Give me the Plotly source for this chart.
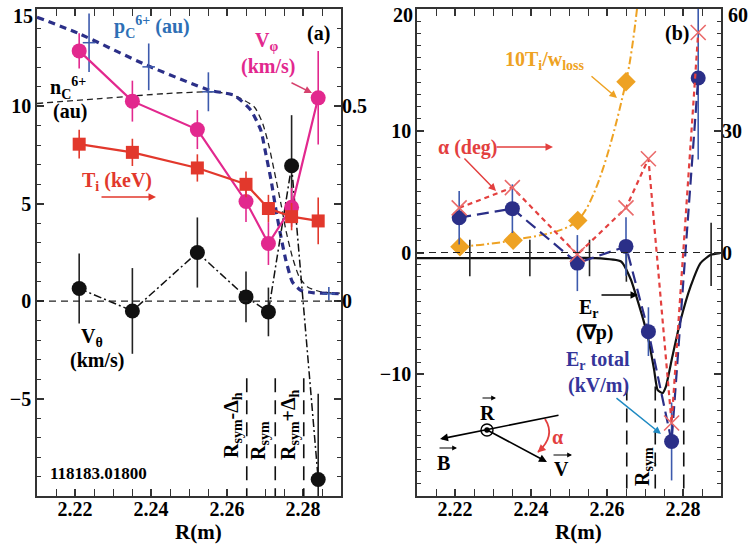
import plotly.graph_objects as go

W, H = 753, 544
FONT = "Liberation Serif"

# ---------------- panel (a) data ----------------
r_pts = [2.2211, 2.2351, 2.2522, 2.2650, 2.2709, 2.2770, 2.2840]
v_phi = [12.85, 10.27, 8.81, 5.12, 2.96, 4.82, 10.44]
v_phi_err = [0.9, 1.05, 1.0, 1.05, 1.1, 1.0, 2.4]
ti_kev = [0.403, 0.382, 0.342, 0.300, 0.238, 0.217, 0.206]
ti_err = [0.037, 0.035, 0.035, 0.033, 0.035, 0.035, 0.06]
v_theta = [0.65, -0.50, 2.50, 0.22, -0.55, 6.95, -9.15]
v_theta_err = [1.8, 2.2, 1.8, 1.3, 1.25, 2.6, 4.4]

pc_r = [2.2100, 2.2208, 2.2389, 2.2554, 2.2619, 2.2663, 2.2689, 2.2702, 2.2716,
        2.2729, 2.2742, 2.2755, 2.2772, 2.2794, 2.2829, 2.2868, 2.2900]
pc_val = [14.58, 13.76, 12.11, 10.83, 10.57, 9.80, 8.78, 7.58, 6.21,
          4.67, 3.30, 2.10, 0.99, 0.56, 0.43, 0.40, 0.38]
pc_err_r = [2.2237, 2.2394, 2.2551, 2.2868]
pc_err_val = [13.27, 12.03, 10.75, 0.38]
pc_err = [1.5, 1.2, 1.0, 0.35]

nc_r = [2.2100, 2.2266, 2.2441, 2.2575, 2.2627, 2.2672, 2.2694, 2.2711, 2.2724,
        2.2742, 2.2755, 2.2772, 2.2790, 2.2812, 2.2847, 2.2897]
nc_val = [10.15, 10.40, 10.66, 10.74, 10.49, 9.97, 9.12, 7.92, 6.72,
          5.00, 3.64, 2.27, 1.25, 0.73, 0.48, 0.41]

rsym_lines = [2.2652, 2.2727, 2.2802]

# ---------------- panel (b) data ----------------
er_total = [2.86, 3.60, -0.87, 0.50, -6.50, -15.52, 14.33]
er_total_err = [2.2, 2.0, 2.3, 2.4, 2.0, 3.2, 6.7]
alpha_deg = [11.0, 16.0, -0.5, 11.0, 23.1, -42.0, 54.2]
loss_r = [2.2213, 2.2353, 2.2523, 2.2650, 2.2711]
loss_val = [0.47, 1.01, 2.63, 14.02, 31.0]

erp_r = [2.2100, 2.2475, 2.2567, 2.2637, 2.2663, 2.2680, 2.2698, 2.2711, 2.2724,
         2.2733, 2.2746, 2.2755, 2.2772, 2.2794, 2.2820, 2.2846, 2.2873, 2.2897]
erp_val = [-0.46, -0.46, -0.46, -0.74, -2.24, -3.89, -5.80, -7.44, -9.64,
           -11.28, -11.55, -11.01, -8.55, -5.53, -2.79, -0.87, -0.19, -0.05]
erp_err_r = [2.2239, 2.2397, 2.2554, 2.2651, 2.2874]
erp_err_val = [-0.45, -0.45, -0.45, -0.8, -0.16]
erp_err = [1.5, 1.5, 1.5, 1.6, 2.6]

x_ticks = [2.22, 2.24, 2.26, 2.28]
ya_ticks = [-5, 0, 5, 10]        # "15" drawn as a label at the top corner
yb_ticks = [-10, 0, 10]          # "20" drawn as a label at the top corner
alpha_ticks = [0, 30]            # "60" drawn as a label at the top corner

MAG = "#e2288e"
RED = "#e2382c"
NAVY = "#2b2f88"
EBLUE = "#3d5aad"
ORANGE = "#eea223"
ARED = "#e3403f"

fig = go.Figure()

# ---- panel (a) traces ----
fig.add_trace(go.Scatter(x=nc_r, y=nc_val, mode="lines", xaxis="x", yaxis="y",
                         line=dict(color="#222", width=1.3, dash="6px,4px", shape="spline", smoothing=0.6)))
fig.add_trace(go.Scatter(x=pc_r, y=pc_val, mode="lines", xaxis="x", yaxis="y",
                         line=dict(color=NAVY, width=3.2, dash="7px,5px", shape="spline", smoothing=0.5)))
fig.add_trace(go.Scatter(x=pc_err_r, y=pc_err_val, mode="markers", xaxis="x", yaxis="y",
                         marker=dict(symbol="line-ew", size=9, line=dict(color=EBLUE, width=1.5)),
                         error_y=dict(type="data", array=pc_err, color=EBLUE, thickness=1.6, width=0)))
fig.add_trace(go.Scatter(x=r_pts, y=v_theta, mode="lines+markers", xaxis="x", yaxis="y",
                         line=dict(color="#111", width=1.5, dash="8px,3px,2px,3px"),
                         marker=dict(symbol="circle", size=15, color="#111"),
                         error_y=dict(type="data", array=v_theta_err, color="#222", thickness=1.6, width=0)))
fig.add_trace(go.Scatter(x=r_pts, y=ti_kev, mode="lines+markers", xaxis="x", yaxis="y2",
                         line=dict(color=RED, width=2.2),
                         marker=dict(symbol="square", size=13, color=RED),
                         error_y=dict(type="data", array=ti_err, color=RED, thickness=1.6, width=0)))
fig.add_trace(go.Scatter(x=r_pts, y=v_phi, mode="lines+markers", xaxis="x", yaxis="y",
                         line=dict(color=MAG, width=2.2),
                         marker=dict(symbol="circle", size=15, color=MAG),
                         error_y=dict(type="data", array=v_phi_err, color=MAG, thickness=1.6, width=0)))

# ---- panel (b) traces ----
fig.add_trace(go.Scatter(x=erp_r, y=erp_val, mode="lines", xaxis="x2", yaxis="y3",
                         line=dict(color="#111", width=2.2, shape="spline", smoothing=0.5)))
fig.add_trace(go.Scatter(x=erp_err_r, y=erp_err_val, mode="markers", xaxis="x2", yaxis="y3",
                         marker=dict(size=1, color="rgba(0,0,0,0)"),
                         error_y=dict(type="data", array=erp_err, color="#222", thickness=1.6, width=0)))
fig.add_trace(go.Scatter(x=loss_r, y=loss_val, mode="lines+markers", xaxis="x2", yaxis="y3",
                         line=dict(color=ORANGE, width=2, dash="8px,3px,2px,3px", shape="spline", smoothing=0.8),
                         marker=dict(symbol="diamond", size=15, color=ORANGE)))
fig.add_trace(go.Scatter(x=r_pts, y=alpha_deg, mode="lines+markers", xaxis="x2", yaxis="y4",
                         line=dict(color=ARED, width=2.2, dash="5px,4px"),
                         marker=dict(symbol="x-thin", size=15, line=dict(color="#ea6a6a", width=1.6))))
fig.add_trace(go.Scatter(x=r_pts, y=er_total, mode="lines+markers", xaxis="x2", yaxis="y3",
                         line=dict(color=NAVY, width=2.2, dash="12px,6px"),
                         marker=dict(symbol="circle", size=15, color=NAVY),
                         error_y=dict(type="data", array=er_total_err, color=EBLUE, thickness=1.6, width=0)))

tickfont = dict(family=FONT, size=20, color="black", weight="bold")
common_x = dict(range=[2.21, 2.29], tickvals=x_ticks, ticktext=[f"{v:.2f}" for v in x_ticks],
                ticks="inside", ticklen=7, tickwidth=1.5, tickcolor="#333", showline=True,
                linewidth=1.5, linecolor="#333", mirror="allticks", showgrid=False, zeroline=False,
                tickfont=tickfont, ticklabelstandoff=-6,
                minor=dict(dtick=0.005, tick0=2.22, ticks="inside", ticklen=4, tickwidth=1.2, tickcolor="#333"))
common_y = dict(ticks="inside", ticklen=7, tickwidth=1.5, tickcolor="#333", showline=True,
                linewidth=1.5, linecolor="#333", mirror="allticks", showgrid=False, zeroline=False,
                tickfont=tickfont,
                minor=dict(dtick=1, tick0=0, ticks="inside", ticklen=4, tickwidth=1.2, tickcolor="#333"))


def fx(x):
    return x / W


def fy(y):
    return 1 - y / H


ydom = [fy(496), fy(9)]
fig.update_layout(
    width=W, height=H, margin=dict(l=0, r=0, t=0, b=0),
    paper_bgcolor="white", plot_bgcolor="white", showlegend=False,
    xaxis=dict(domain=[fx(37), fx(341)], anchor="y", **common_x),
    yaxis=dict(domain=ydom, anchor="x", range=[-10, 15], tickvals=ya_ticks, **common_y),
    yaxis2=dict(overlaying="y", side="right", anchor="x", range=[-0.5, 0.75],
                tickvals=[0, 0.5], ticktext=["0", "0.5"], ticks="", showline=False,
                showgrid=False, zeroline=False, tickfont=tickfont),
    xaxis2=dict(domain=[fx(417), fx(721)], anchor="y3", **common_x),
    yaxis3=dict(domain=ydom, anchor="x2", range=[-20, 20], tickvals=yb_ticks, **common_y),
    yaxis4=dict(overlaying="y3", side="right", anchor="x2", range=[-60, 60],
                tickvals=alpha_ticks, ticks="", showline=False, showgrid=False,
                zeroline=False, tickfont=tickfont),
)

shapes = []
shapes.append(dict(type="line", xref="x domain", yref="y", x0=0, x1=1, y0=0, y1=0,
                   line=dict(color="#222", width=1.2, dash="7px,5px")))
shapes.append(dict(type="line", xref="x2 domain", yref="y3", x0=0, x1=1, y0=0, y1=0,
                   line=dict(color="#222", width=1.2, dash="7px,5px")))
for xr in rsym_lines:
    shapes.append(dict(type="line", xref="x", yref="y", x0=xr, x1=xr, y0=-3.95, y1=-10,
                       line=dict(color="#111", width=1.6, dash="14px,8px")))
    shapes.append(dict(type="line", xref="x2", yref="y3", x0=xr, x1=xr, y0=-11.0, y1=-20,
                       line=dict(color="#111", width=1.6, dash="14px,8px")))


def P(x, y):
    return fx(x), fy(y)


for rr, fill in [(6, "white"), (2, "black")]:
    x0, y0 = P(487 - rr, 430 + rr)
    x1, y1 = P(487 + rr, 430 - rr)
    shapes.append(dict(type="circle", xref="paper", yref="paper", x0=x0, x1=x1, y0=y0, y1=y1,
                       line=dict(color="black", width=1.4), fillcolor=fill, layer="above"))
sx, sy = P(545, 419)
cx, cy = P(556, 436)
ex, ey = P(538, 452)
shapes.append(dict(type="path", xref="paper", yref="paper",
                   path=f"M {sx} {sy} Q {cx} {cy} {ex} {ey}",
                   line=dict(color=ARED, width=1.8)))
fig.update_layout(shapes=shapes)

ann = []


def label(text, x, y, color="black", size=20, angle=0):
    xp, yp = P(x, y)
    ann.append(dict(text=f"<b>{text}</b>", x=xp, y=yp, xref="paper", yref="paper",
                    showarrow=False, xanchor="center", yanchor="middle", textangle=angle,
                    font=dict(family=FONT, size=size, color=color)))


def arrow(xt, yt, xh, yh, color="black", width=1.5, head=2, size=1.0):
    xp, yp = P(xh, yh)
    ann.append(dict(text="", x=xp, y=yp, xref="paper", yref="paper", showarrow=True,
                    ax=xt - xh, ay=yt - yh, arrowhead=head, arrowsize=size,
                    arrowwidth=width, arrowcolor=color, standoff=0))


# top-corner tick labels (kept inside the page like the reference)
label("15", 23, 16)
label("20", 403, 15)
label("60", 738, 15)

# panel (a) labels
label("p<sub>C</sub><sup>6+</sup> (au)", 152, 27, "#2e6fb5")
label("(a)", 318, 33)
label("V<sub>φ</sub>", 266, 42, MAG)
label("(km/s)", 268, 66, MAG)
label("n<sub>C</sub><sup>6+</sup>", 68, 88)
label("(au)", 70, 112)
label("T<sub>i</sub> (keV)", 117, 182, RED)
label("V<sub>θ</sub>", 92, 337)
label("(km/s)", 97, 360)
label("118183.01800", 98, 473, size=17)
label("R<sub>sym</sub>-Δ<sub>h</sub>", 232, 425, angle=-90)
label("R<sub>sym</sub>", 259, 441, angle=-90)
label("R<sub>sym</sub>+Δ<sub>h</sub>", 289, 425, angle=-90)
label("R(m)", 198, 532, size=21)
arrow(290, 82, 312, 93, "#d6426e")
arrow(100, 197, 156, 197, RED)

# panel (b) labels
label("(b)", 677, 33)
label("10T<sub>i</sub>/w<sub>loss</sub>", 545, 60, ORANGE)
label("α (deg)", 467, 147, ARED)
label("E<sub>r</sub>", 589, 308)
label("(∇p)", 594, 332)
label("E<sub>r</sub> total", 598, 360, "#35359a")
label("(kV/m)", 598, 385, "#35359a")
label("R<sub>sym</sub>", 643, 467, angle=-90)
label("R(m)", 578, 532, size=21)
arrow(590, 75, 617, 98, ORANGE)
arrow(495, 147, 553, 147, ARED)
arrow(463, 157, 496, 191, ARED)
arrow(600, 295, 638, 295, "black")
arrow(615, 397, 661, 434, "#1f8ac2")

# inset diagram
arrow(560, 415, 440, 439, "black", width=1.6)
arrow(487, 430, 547, 462, "black", width=1.6)
arrow(543, 447.5, 537.5, 452.5, ARED, width=1.6)
label("R", 487, 413)
label("B", 443, 463)
label("V", 561, 469)
label("α", 557, 437, ARED)
arrow(481, 398, 496, 398, "black", width=1.2, head=2, size=0.8)
arrow(438, 448, 457, 448, "black", width=1.2, head=2, size=0.8)
arrow(552, 455, 572, 455, "black", width=1.2, head=2, size=0.8)

fig.update_layout(annotations=ann)
# remove the browser's default 8px body margin so the 753x544 figure fills the window
fig.write_html("out.html", config={"displayModeBar": False},
               post_script="document.body.style.margin='0px';")
